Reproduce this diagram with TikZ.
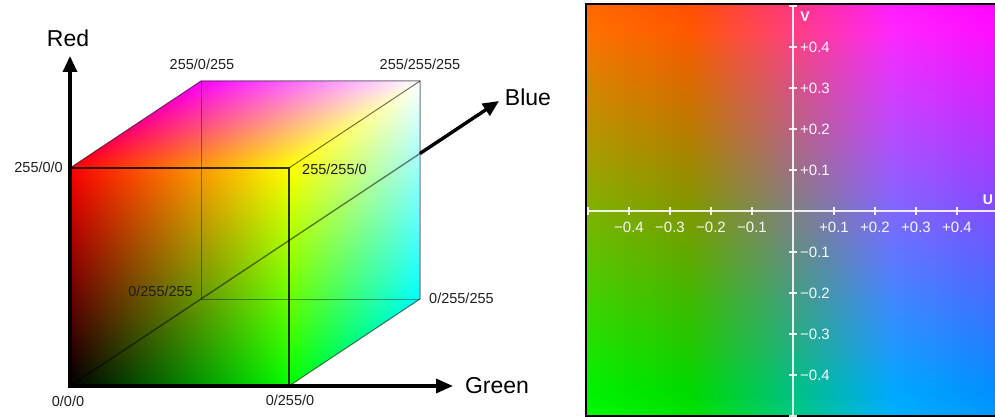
\documentclass[tikz,border=0pt]{standalone}
\usepackage{fontspec}
\setmainfont{Liberation Sans}
\usetikzlibrary{arrows.meta}

% local square: u to the right, v upwards (middle 50bp of the 100bp domain)
\pgfdeclarefunctionalshading{frontface}{\pgfpointorigin}{\pgfpoint{100bp}{100bp}}{}{
  0.02 mul 0.5 sub exch 0.02 mul 0.5 sub 0
}
\pgfdeclarefunctionalshading{topface}{\pgfpointorigin}{\pgfpoint{100bp}{100bp}}{}{
  0.02 mul 0.5 sub exch 0.02 mul 0.5 sub exch 1 3 1 roll
}
\pgfdeclarefunctionalshading{rightface}{\pgfpointorigin}{\pgfpoint{100bp}{100bp}}{}{
  0.02 mul 0.5 sub exch 0.02 mul 0.5 sub 1 exch
}
\pgfdeclarefunctionalshading{uvplane}{\pgfpointorigin}{\pgfpoint{100bp}{100bp}}{}{
  0.02 mul 1 sub exch 0.02 mul 1 sub
  1 index 1.14 mul 0.5 add 3 1 roll
  1 index -0.581 mul 1 index -0.395 mul add 0.5 add 3 1 roll
  exch pop 2.032 mul 0.5 add
}

\begin{document}
\begin{tikzpicture}[x=1pt,y=-1pt,
  lbl/.style={font=\fontsize{14.5}{16}\selectfont, text=black!88, inner sep=0pt},
  axlbl/.style={font=\fontsize{23}{26}\selectfont, text=black, inner sep=0pt},
  axisline/.style={line width=3.4pt, black},
  frontedge/.style={line width=1.6pt, black, opacity=0.8},
  cubeedge/.style={line width=1pt, black, opacity=0.55},
  hiddenedge/.style={line width=0.9pt, black, opacity=0.4},
  uvaxis/.style={line width=2pt, white, opacity=0.88},
  uvtick/.style={line width=1.3pt, white, opacity=0.88},
  uvlbl/.style={font=\fontsize{15}{17}\selectfont, text=white, inner sep=0pt, opacity=0.95},
  uvname/.style={font=\bfseries\fontsize{14}{16}\selectfont, text=white, inner sep=0pt},
]
\useasboundingbox (0,0) rectangle (995,417);
\fill[white] (0,0) rectangle (995,417);

% ---------------- RGB cube ----------------
\coordinate (O) at (70,386);
\coordinate (R) at (70,168);
\coordinate (G) at (289,386);
\coordinate (RG) at (289,168);
\coordinate (B) at (201,299);
\coordinate (RB) at (201,81);
\coordinate (GB) at (420,299);
\coordinate (W) at (420,81);

\shade[shading=frontface] (R) rectangle (G);
\begin{scope}[transform canvas={cm={21.9,0,13.1,8.7,(70pt,-168pt)}}]
  \shade[shading=topface] (0pt,0pt) rectangle (10pt,10pt);
\end{scope}
\begin{scope}[transform canvas={cm={13.1,8.7,0,21.8,(289pt,-386pt)}}]
  \shade[shading=rightface] (0pt,0pt) rectangle (10pt,10pt);
\end{scope}

\draw[hiddenedge] (RB) -- (B) -- (GB);
\draw[cubeedge] (R) -- (RB) -- (W) -- (GB) -- (G);
\draw[cubeedge] (RG) -- (W);
\draw[frontedge] (R) -- (RG) -- (G);

% axes
\coordinate (rtip) at (70,56);
\coordinate (gtip) at (453,386);
\coordinate (bexit) at (420,153.5);
\coordinate (btip) at (499,101);
\draw[hiddenedge, line width=1.4pt, opacity=0.5] (O) -- (bexit);
\draw[axisline, -{Triangle[length=16pt,width=14pt]}] (bexit) -- (btip);
\draw[axisline, {Triangle[length=16pt,width=14pt]}-{Triangle[length=17pt,width=14pt]}] (rtip) -- (O) -- (gtip);

\node[axlbl] (redlbl) at (68,38) {Red};
\node[axlbl] (bluelbl) at (528,97) {Blue};
\node[axlbl] (greenlbl) at (497,386) {Green};

\node[lbl] (c101) at (202,64) {255/0/255};
\node[lbl] (c111) at (420,64) {255/255/255};
\node[lbl, anchor=east] (c100) at (63,167) {255/0/0};
\node[lbl, anchor=west] (c110) at (302,169) {255/255/0};
\node[lbl, anchor=east] (c011a) at (193,291) {0/255/255};
\node[lbl, anchor=west] (c011b) at (429,298) {0/255/255};
\node[lbl] (c000) at (68,401) {0/0/0};
\node[lbl] (c010) at (290,400) {0/255/0};

% ---------------- UV plane ----------------
\begin{scope}
  \clip (586,4) rectangle (998,417);
  \shade[shading=uvplane] (586,4) rectangle (998,416);
\end{scope}
\draw[line width=2.4pt, black] (586.2,4.2) rectangle (1000,416.6);

\coordinate (uleft) at (588,211);
\coordinate (uright) at (995,211);
\coordinate (vtop) at (793,6);
\coordinate (vbot) at (793,416);
\draw[uvaxis] (uleft) -- (uright);
\draw[uvaxis] (vtop) -- (vbot);

\foreach \i in {-5,-4,-3,-2,-1,1,2,3,4} {
  \draw[uvtick] (793+41*\i,207) -- (793+41*\i,215);
}
\foreach \i in {-5,-4,-3,-2,-1,1,2,3,4,5} {
  \draw[uvtick] (789,211-41*\i) -- (797,211-41*\i);
}
\foreach \i/\t in {-4/−0.4,-3/−0.3,-2/−0.2,-1/−0.1,1/+0.1,2/+0.2,3/+0.3,4/+0.4} {
  \node[uvlbl] (ul\i) at (793+41*\i,227) {\t};
}
\foreach \i/\t in {4/+0.4,3/+0.3,2/+0.2,1/+0.1,-1/−0.1,-2/−0.2,-3/−0.3,-4/−0.4} {
  \node[uvlbl, anchor=west] (vl\i) at (800,211-41*\i) {\t};
}
\node[uvname] (vname) at (805,17) {V};
\node[uvname] (uname) at (988,200) {U};
\end{tikzpicture}
\end{document}
